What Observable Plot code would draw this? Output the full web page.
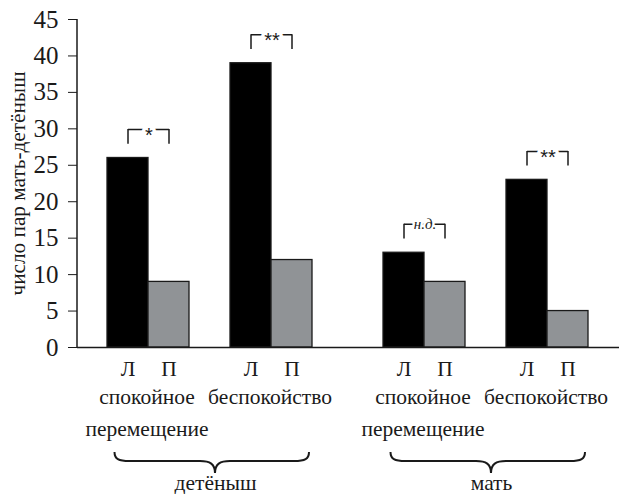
<!DOCTYPE html>
<html><head><meta charset="utf-8">
<script src="https://cdn.jsdelivr.net/npm/d3@7"></script>
<script src="https://cdn.jsdelivr.net/npm/@observablehq/plot@0.6"></script>
<style>
html,body{margin:0;padding:0;background:#fff}
svg{display:block}
</style>
</head><body><div id="chart"></div>
<script>
// ---- data ----
const subjects = ["детёныш", "детёныш", "мать", "мать"];
const behaviours = ["спокойное перемещение", "беспокойство", "спокойное перемещение", "беспокойство"];
const groupLabels = ["спокойное\nперемещение", "беспокойство", "спокойное\nперемещение", "беспокойство"];
const sides = ["Л", "П"];
const leftValues = [26, 39, 13, 23];
const rightValues = [9, 12, 9, 5];
const significance = ["*", "**", "н.д.", "**"];
const yTicks = [0, 5, 10, 15, 20, 25, 30, 35, 40, 45];
const subjectOrder = ["детёныш", "мать"];
const behaviourOrder = ["спокойное перемещение", "беспокойство"];
const yLabel = "число пар мать-детёныш";

// ---- derived tables ----
const key = (b, s) => `${b}|${s}`;
const xDomain = [key(behaviourOrder[0], sides[0]), key(behaviourOrder[0], sides[1]), "",
                 key(behaviourOrder[1], sides[0]), key(behaviourOrder[1], sides[1])];

const bars = subjects.flatMap((subj, i) => [
  {subject: subj, key: key(behaviours[i], sides[0]), side: sides[0], value: leftValues[i]},
  {subject: subj, key: key(behaviours[i], sides[1]), side: sides[1], value: rightValues[i]}
]);

const groups = subjects.map((subj, i) => {
  const m = Math.max(leftValues[i], rightValues[i]);
  return {subject: subj, left: key(behaviours[i], sides[0]), right: key(behaviours[i], sides[1]),
          label: groupLabels[i], sig: significance[i], hi: m + 3.9, lo: m + 1.9};
});
const legs = groups.flatMap(g => [
  {subject: g.subject, x: g.left, hi: g.hi, lo: g.lo},
  {subject: g.subject, x: g.right, hi: g.hi, lo: g.lo}
]);
const yLabelRow = [{subject: subjectOrder[0], text: yLabel}];

const ink = "#1a1a1a";
const SERIF = "Liberation Serif";
const SANS = "Liberation Sans";
const MARGIN_LEFT = 77;
const FS = 21.5;

const plot = Plot.plot({
  width: 619, height: 494,
  marginTop: 19, marginBottom: 147, marginLeft: MARGIN_LEFT, marginRight: 0,
  style: {background: "white", color: ink, fontFamily: SERIF},
  fx: {domain: subjectOrder, range: [MARGIN_LEFT, 629], padding: 0, label: null, axis: null},
  x: {domain: xDomain, paddingInner: 0, paddingOuter: 0.833, align: 0.416, label: null, axis: null},
  y: {domain: [0, 45], label: null, axis: null},
  color: {domain: sides, range: ["#000000", "#909396"]},
  marks: [
    Plot.barY(bars, {fx: "subject", x: "key", y: "value", fill: "side", stroke: ink, strokeWidth: 1.3}),
    Plot.ruleY([0], {stroke: ink, strokeWidth: 1.5}),
    Plot.axisY({ticks: yTicks, tickSize: 9, tickPadding: 10, fontSize: 25, fontFamily: SERIF, label: null, stroke: ink}),
    Plot.text(yLabelRow, {fx: "subject", text: "text", frameAnchor: "left", textAnchor: "middle",
                          lineAnchor: "middle", rotate: -90, dx: -59, fontSize: 21, fontFamily: SERIF, fill: ink}),
    Plot.axisX({tickSize: 0, tickPadding: 13, fontSize: FS, fontFamily: SERIF, label: null, tickFormat: d => d.split("|")[1] ?? ""}),
    Plot.axisFx({anchor: "bottom", tickSize: 0, tickPadding: 127, fontSize: FS, fontFamily: SERIF, label: null}),
    Plot.text(groups, {fx: "subject", x: "left", text: "label", frameAnchor: "bottom", lineAnchor: "top",
                       dx: 19, dy: 34, lineHeight: 1.48, fontSize: FS, fontFamily: SERIF, fill: ink}),
    // significance brackets
    Plot.ruleX(legs, {fx: "subject", x: "x", y1: "lo", y2: "hi", stroke: ink, strokeWidth: 1.5}),
    Plot.link(groups, {fx: "subject", x1: "left", x2: "right", y1: "hi", y2: "hi", stroke: ink, strokeWidth: 1.5}),
    Plot.text(groups.filter(g => g.sig !== "н.д."), {fx: "subject", x: "left", y: "hi", text: "sig", dx: 21, dy: -2,
      lineAnchor: "top", fontSize: 20, fontFamily: SANS, fill: ink, stroke: "white", strokeWidth: 7}),
    Plot.text(groups.filter(g => g.sig === "н.д."), {fx: "subject", x: "left", y: "hi", text: "sig", dx: 21, dy: 0,
      lineAnchor: "middle", fontSize: 15, fontStyle: "italic", fontFamily: SERIF, fill: ink, stroke: "white", strokeWidth: 5})
  ]
});

const svgNode = plot.tagName.toLowerCase() === "svg" ? plot : plot.querySelector("svg");
document.getElementById("chart").appendChild(plot);
const svg = d3.select(svgNode);

// keep the rotated axis title at the reference's length
svg.selectAll("text").filter(function () { return this.textContent === yLabel; })
  .attr("textLength", 224).attr("lengthAdjust", "spacingAndGlyphs");

// y axis line and the two curly braces, positioned with the plot's own scales
const sx = plot.scale("x"), sy = plot.scale("y"), sfx = plot.scale("fx");
svg.append("line")
  .attr("x1", MARGIN_LEFT).attr("x2", MARGIN_LEFT)
  .attr("y1", sy.apply(0)).attr("y2", sy.apply(45))
  .attr("stroke", ink).attr("stroke-width", 1.5);

const x0 = sx.range[0];
const bw = sx.bandwidth;
const base = sy.apply(0);
for (const subj of subjectOrder) {
  const f = sfx.apply(subj);
  const a = f + sx.apply(xDomain[0]) - x0 + 7.5;
  const b = f + sx.apply(xDomain[xDomain.length - 1]) - x0 + bw - 3;
  const m = f + sfx.bandwidth / 2;
  const yA = base + 105, yF = base + 114, yT = base + 126;
  const d = `M${a},${yA} C${a},${yF - 2} ${a + 4},${yF} ${a + 15},${yF} L${m - 15},${yF} ` +
            `C${m - 5},${yF} ${m},${yF + 3} ${m},${yT} C${m},${yF + 3} ${m + 5},${yF} ${m + 15},${yF} ` +
            `L${b - 15},${yF} C${b - 4},${yF} ${b},${yF - 2} ${b},${yA}`;
  svg.append("path").attr("d", d).attr("fill", "none").attr("stroke", ink).attr("stroke-width", 2);
}
</script>
</body></html>
